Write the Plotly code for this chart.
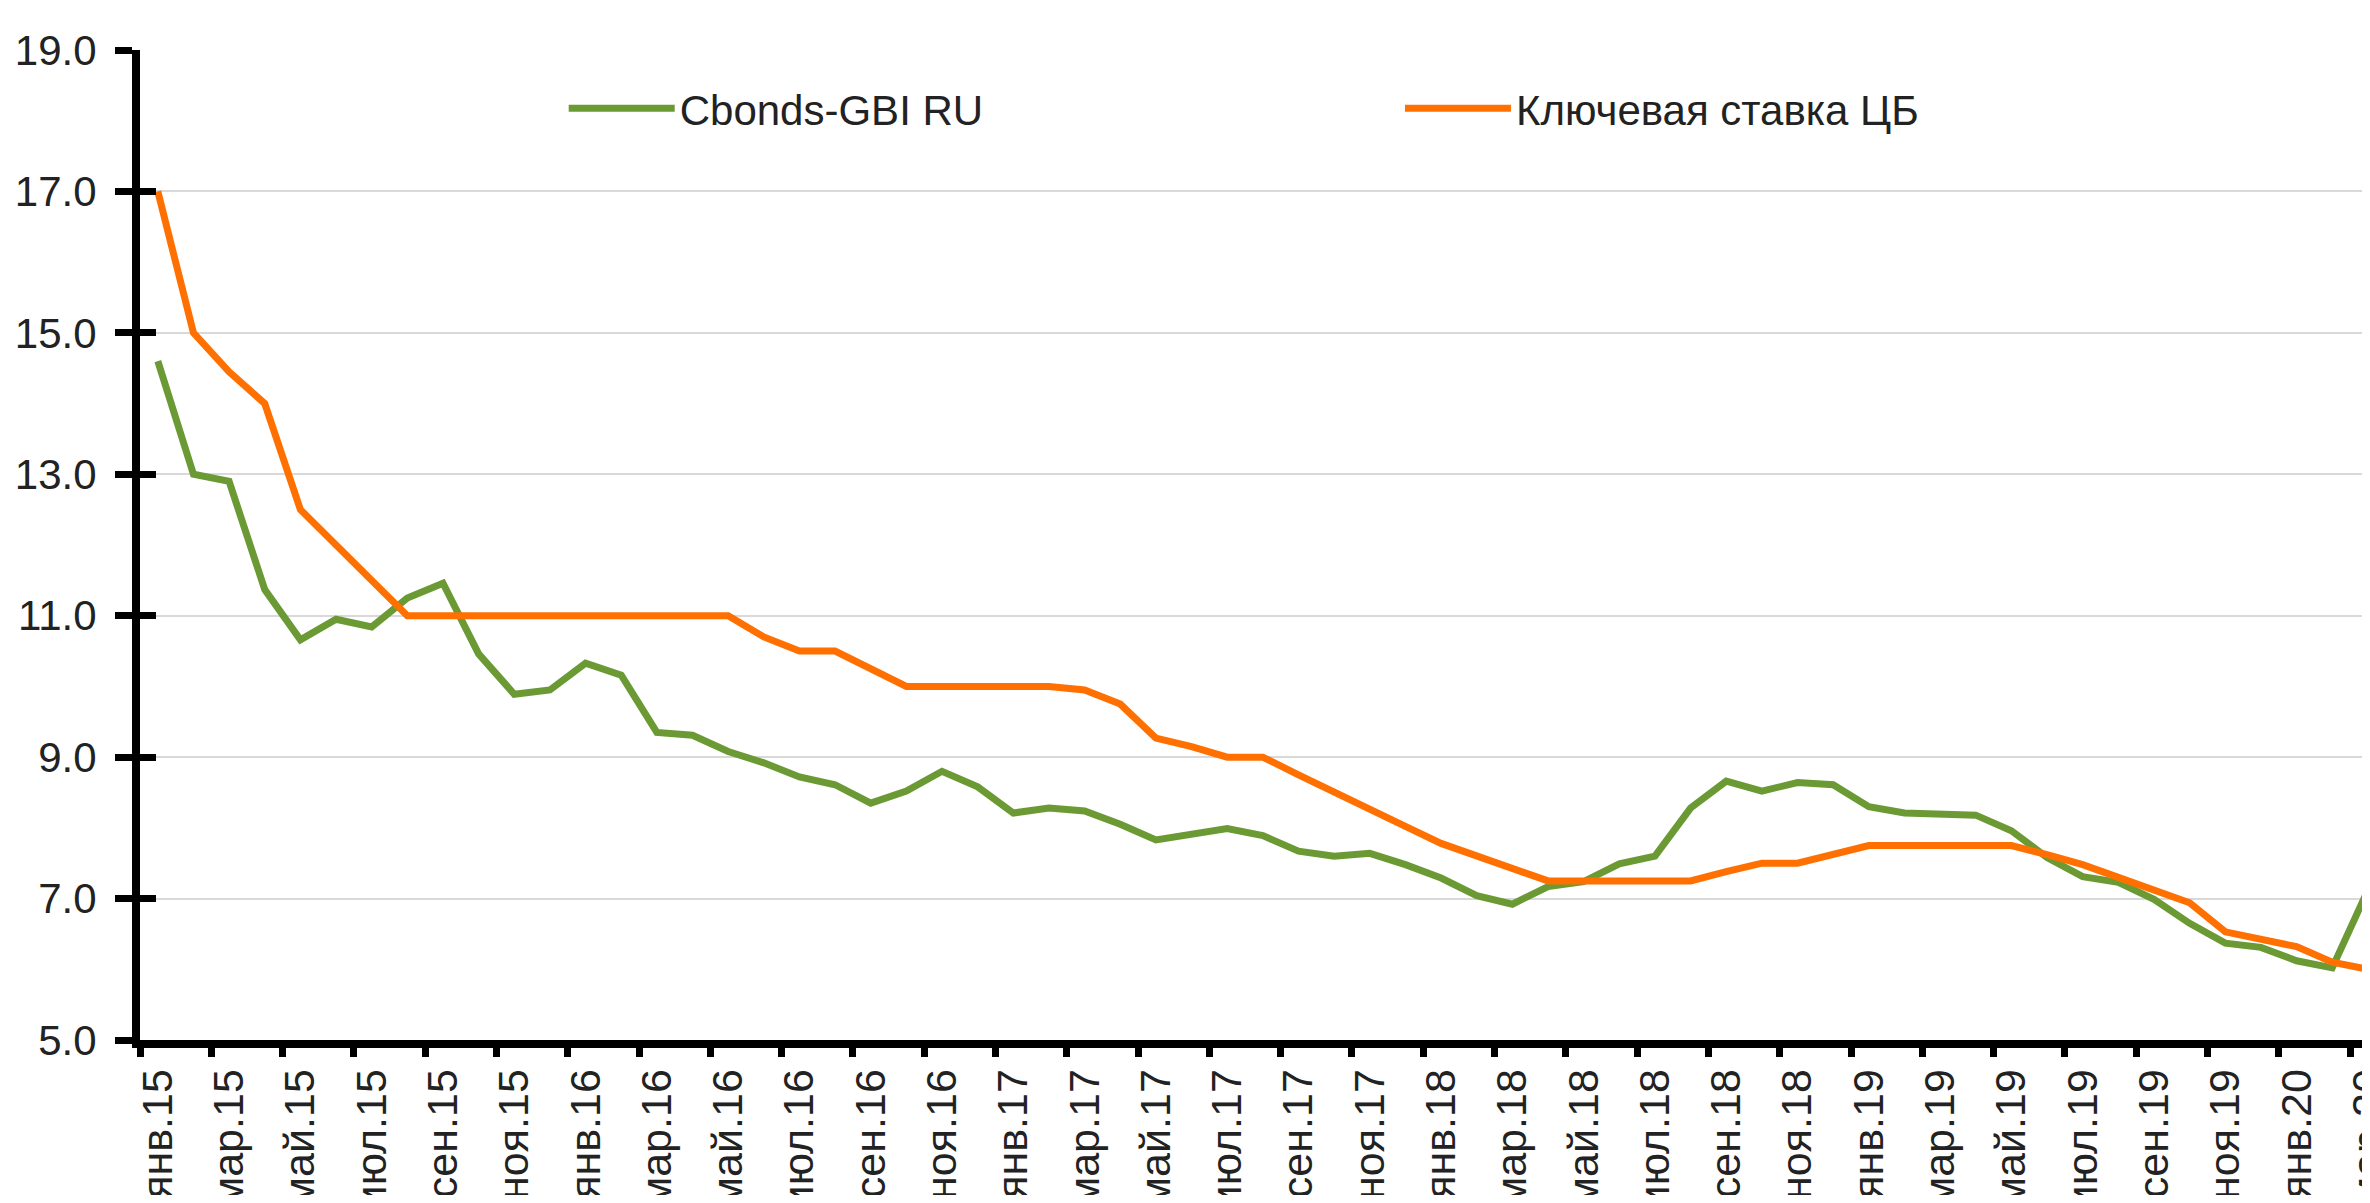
import plotly.graph_objects as go

# ---- data ----
tick_labels = ["янв.15", "мар.15", "май.15", "июл.15", "сен.15", "ноя.15",
               "янв.16", "мар.16", "май.16", "июл.16", "сен.16", "ноя.16",
               "янв.17", "мар.17", "май.17", "июл.17", "сен.17", "ноя.17",
               "янв.18", "мар.18", "май.18", "июл.18", "сен.18", "ноя.18",
               "янв.19", "мар.19", "май.19", "июл.19", "сен.19", "ноя.19",
               "янв.20", "мар.20"]

cbonds_gbi = [14.6, 13.0, 12.9, 11.37, 10.66, 10.95, 10.84, 11.25, 11.46, 10.46,
              9.89, 9.95, 10.33, 10.16, 9.35, 9.31, 9.08, 8.92, 8.72, 8.61,
              8.35, 8.52, 8.8, 8.58, 8.21, 8.28, 8.24, 8.05, 7.83, 7.9,
              7.99, 7.89, 7.67, 7.6, 7.64, 7.48, 7.29, 7.04, 6.92, 7.17,
              7.24, 7.49, 7.6, 8.28, 8.66, 8.52, 8.64, 8.61, 8.3, 8.21,
              8.19, 8.18, 7.96, 7.58, 7.31, 7.23, 6.99, 6.65, 6.37, 6.31,
              6.12, 6.02, 7.12]

key_rate = [17.0, 15.0, 14.45, 14.0, 12.5, 12.0, 11.5, 11.0, 11.0, 11.0,
            11.0, 11.0, 11.0, 11.0, 11.0, 11.0, 11.0, 10.7, 10.5, 10.5,
            10.25, 10.0, 10.0, 10.0, 10.0, 10.0, 9.95, 9.75, 9.27, 9.15,
            9.0, 9.0, 8.75, 8.5, 8.26, 8.02, 7.78, 7.6, 7.43, 7.25,
            7.25, 7.25, 7.25, 7.25, 7.38, 7.5, 7.5, 7.63, 7.75, 7.75,
            7.75, 7.75, 7.75, 7.62, 7.48, 7.3, 7.12, 6.94, 6.53, 6.42,
            6.32, 6.1, 6.0]

series_names = ["Cbonds-GBI RU", "Ключевая ставка ЦБ"]
series_colors = ["#6B9A35", "#FF7000"]
y_ticks = [5, 7, 9, 11, 13, 15, 17, 19]

n = len(cbonds_gbi)
x_idx = list(range(n))
label_pos = x_idx[::2]
boundary_pos = [p - 0.5 for p in label_pos]

FONT = "Liberation Sans, Arial, sans-serif"
TXT = "#222222"

fig = go.Figure()
for name, vals, col, lg in zip(series_names, [cbonds_gbi, key_rate], series_colors,
                               ["legend", "legend2"]):
    fig.add_trace(go.Scatter(x=x_idx, y=vals, mode="lines", name=name, legend=lg,
                             line=dict(color=col, width=7)))

# helper (empty) traces so the overlaid tick-mark axes are drawn
fig.add_trace(go.Scatter(x=[None], y=[None], xaxis="x2", yaxis="y", mode="lines",
                         showlegend=False, hoverinfo="skip"))
fig.add_trace(go.Scatter(x=[None], y=[None], xaxis="x", yaxis="y2", mode="lines",
                         showlegend=False, hoverinfo="skip"))

xrange = [-0.5, 62.06]
legend_common = dict(orientation="h", yanchor="middle", xanchor="left",
                     itemwidth=106, bgcolor="rgba(0,0,0,0)", borderwidth=0,
                     font=dict(family=FONT, size=42, color=TXT))
fig.update_layout(
    width=2362, height=1187,
    margin=dict(l=132, r=0, t=42, b=155),
    paper_bgcolor="white", plot_bgcolor="white",
    showlegend=True,
    legend=dict(x=0.19, y=0.941, **legend_common),
    legend2=dict(x=0.565, y=0.941, **legend_common),
    xaxis=dict(range=xrange, tickvals=label_pos, ticktext=tick_labels,
               tickangle=-90, ticks="outside", ticklen=4, tickwidth=1,
               tickcolor="rgba(0,0,0,0)", showline=True, linecolor="black",
               linewidth=8, showgrid=False, zeroline=False, automargin=False,
               ticklabeloverflow="allow",
               tickfont=dict(family=FONT, size=43, color=TXT)),
    xaxis2=dict(range=xrange, overlaying="x", anchor="y", side="bottom",
                tickvals=boundary_pos, ticks="outside", ticklen=16, tickwidth=7,
                tickcolor="black", showticklabels=False, showline=False,
                showgrid=False, zeroline=False),
    yaxis=dict(range=[5, 19], tickvals=y_ticks, tickformat=".1f",
               ticks="outside", ticklen=17, tickwidth=7, tickcolor="black",
               showline=True, linecolor="black", linewidth=8,
               showgrid=True, gridcolor="#d9d9d9", gridwidth=2, zeroline=False,
               automargin=False, ticklabelstandoff=10,
               tickfont=dict(family=FONT, size=42, color=TXT)),
    yaxis2=dict(range=[5, 19], overlaying="y", anchor="x", side="left",
                tickvals=y_ticks, ticks="inside", ticklen=16, tickwidth=7,
                tickcolor="black", showticklabels=False, showline=False,
                showgrid=False, zeroline=False),
)

fig.write_html("out.html")
